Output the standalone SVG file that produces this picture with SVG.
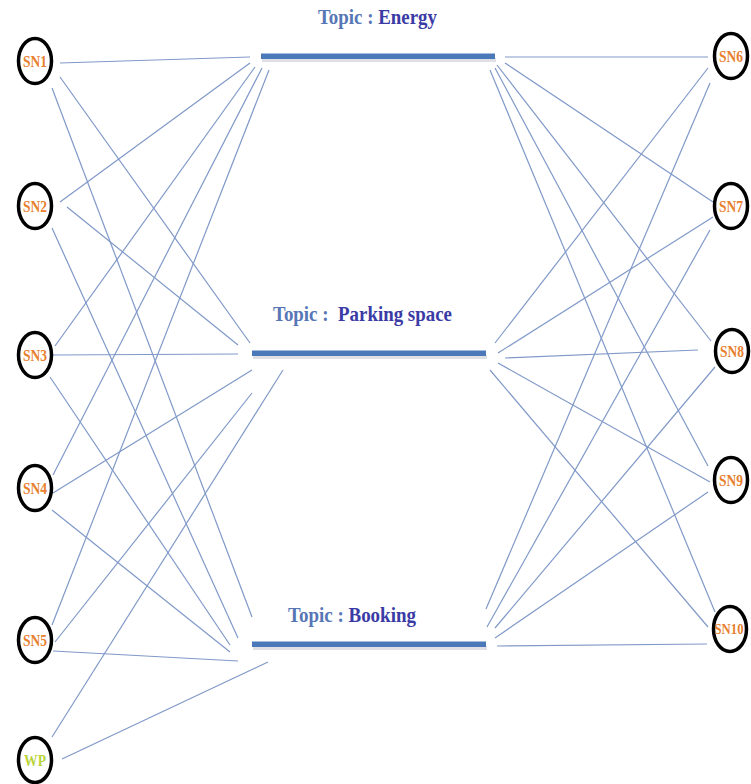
<svg xmlns="http://www.w3.org/2000/svg" width="751" height="784" viewBox="0 0 751 784">
<style>
.bg{fill:#ffffff}
.conn line{stroke:#8099c8;stroke-width:1.2;fill:none}
.node ellipse{fill:#ffffff;stroke:#000000;stroke-width:3.5}
.lbl{font-family:"Liberation Serif","Times New Roman",serif;font-weight:bold;font-size:17px;fill:#e8802e;text-anchor:middle}
.wp{fill:#b8d43a}
.bar{fill:#4a78b8}
.shadow{fill:#c8ccd4;opacity:0.6}
.tt{font-family:"Liberation Serif","Times New Roman",serif;font-weight:bold;font-size:20px}
.t1{fill:#5676b6}
.t2{fill:#3b3ba6}
</style>
<rect class="bg" x="0" y="0" width="751" height="784"/>
<g id="connectors" class="conn">
<line x1="60" y1="63" x2="250" y2="57"/>
<line x1="60" y1="77" x2="250" y2="343"/>
<line x1="52" y1="88" x2="252" y2="617"/>
<line x1="60" y1="202" x2="250" y2="63"/>
<line x1="67" y1="207" x2="238" y2="345"/>
<line x1="52" y1="228" x2="238" y2="638"/>
<line x1="55" y1="346" x2="255" y2="67"/>
<line x1="53" y1="355" x2="238" y2="354"/>
<line x1="50" y1="377" x2="230" y2="645"/>
<line x1="53" y1="475" x2="262" y2="68"/>
<line x1="53" y1="493" x2="252" y2="370"/>
<line x1="52" y1="510" x2="230" y2="652"/>
<line x1="52" y1="625" x2="269" y2="70"/>
<line x1="55" y1="642" x2="252" y2="393"/>
<line x1="53" y1="651" x2="238" y2="661"/>
<line x1="52" y1="737" x2="283" y2="370"/>
<line x1="62" y1="759" x2="268" y2="662"/>
<line x1="505" y1="57" x2="708" y2="57"/>
<line x1="495" y1="343" x2="708" y2="68"/>
<line x1="486" y1="609" x2="710" y2="83"/>
<line x1="505" y1="63" x2="713" y2="202"/>
<line x1="498" y1="353" x2="713" y2="217"/>
<line x1="487" y1="627" x2="710" y2="230"/>
<line x1="497" y1="65" x2="711" y2="341"/>
<line x1="505" y1="358" x2="698" y2="350"/>
<line x1="495" y1="628" x2="715" y2="367"/>
<line x1="495" y1="68" x2="708" y2="466"/>
<line x1="498" y1="363" x2="710" y2="482"/>
<line x1="495" y1="638" x2="708" y2="492"/>
<line x1="490" y1="70" x2="715" y2="612"/>
<line x1="490" y1="370" x2="708" y2="627"/>
<line x1="497" y1="646" x2="707" y2="644"/>
</g>
<g id="topic-energy">
<rect class="shadow" x="262" y="58" width="234" height="4"/>
<rect class="bar" x="261" y="53.5" width="234" height="5.5"/>
<text class="tt" x="318" y="24" textLength="119" lengthAdjust="spacingAndGlyphs"><tspan class="t1">Topic : </tspan><tspan class="t2">Energy</tspan></text>
</g>
<g id="topic-parking">
<rect class="shadow" x="253" y="355" width="234" height="4"/>
<rect class="bar" x="252" y="350.5" width="234" height="5.5"/>
<text class="tt" x="273" y="321" textLength="179" lengthAdjust="spacingAndGlyphs" style="font-size:21px"><tspan class="t1">Topic :&#160; </tspan><tspan class="t2">Parking space</tspan></text>
</g>
<g id="topic-booking">
<rect class="shadow" x="253" y="646" width="234" height="4"/>
<rect class="bar" x="252" y="641.5" width="234" height="5.5"/>
<text class="tt" x="288" y="622" textLength="128" lengthAdjust="spacingAndGlyphs"><tspan class="t1">Topic : </tspan><tspan class="t2">Booking</tspan></text>
</g>
<g id="SN1" class="node"><ellipse cx="35" cy="61" rx="16.5" ry="22.5"/><text class="lbl" x="35" y="67" textLength="24" lengthAdjust="spacingAndGlyphs">SN1</text></g>
<g id="SN2" class="node"><ellipse cx="35" cy="206" rx="16.5" ry="22.5"/><text class="lbl" x="35" y="212" textLength="24" lengthAdjust="spacingAndGlyphs">SN2</text></g>
<g id="SN3" class="node"><ellipse cx="35" cy="355" rx="16.5" ry="22.5"/><text class="lbl" x="35" y="361" textLength="24" lengthAdjust="spacingAndGlyphs">SN3</text></g>
<g id="SN4" class="node"><ellipse cx="35" cy="488" rx="16.5" ry="22.5"/><text class="lbl" x="35" y="494" textLength="24" lengthAdjust="spacingAndGlyphs">SN4</text></g>
<g id="SN5" class="node"><ellipse cx="35" cy="640" rx="16.5" ry="22.5"/><text class="lbl" x="35" y="646" textLength="24" lengthAdjust="spacingAndGlyphs">SN5</text></g>
<g id="WP" class="node"><ellipse cx="35" cy="760" rx="16.5" ry="22.5"/><text class="lbl wp" x="35" y="766" textLength="22" lengthAdjust="spacingAndGlyphs">WP</text></g>
<g id="SN6" class="node"><ellipse cx="731" cy="56" rx="16.5" ry="22.5"/><text class="lbl" x="731" y="62" textLength="24" lengthAdjust="spacingAndGlyphs">SN6</text></g>
<g id="SN7" class="node"><ellipse cx="731" cy="206" rx="16.5" ry="22.5"/><text class="lbl" x="731" y="212" textLength="24" lengthAdjust="spacingAndGlyphs">SN7</text></g>
<g id="SN8" class="node"><ellipse cx="732" cy="351" rx="16.5" ry="21.5"/><text class="lbl" x="732" y="357" textLength="24" lengthAdjust="spacingAndGlyphs">SN8</text></g>
<g id="SN9" class="node"><ellipse cx="731" cy="480" rx="16.5" ry="22.5"/><text class="lbl" x="731" y="486" textLength="24" lengthAdjust="spacingAndGlyphs">SN9</text></g>
<g id="SN10" class="node"><ellipse cx="730" cy="629" rx="16.5" ry="22.5"/><text class="lbl" x="729" y="634" textLength="29" lengthAdjust="spacingAndGlyphs" style="font-size:14px">SN10</text></g>
</svg>
